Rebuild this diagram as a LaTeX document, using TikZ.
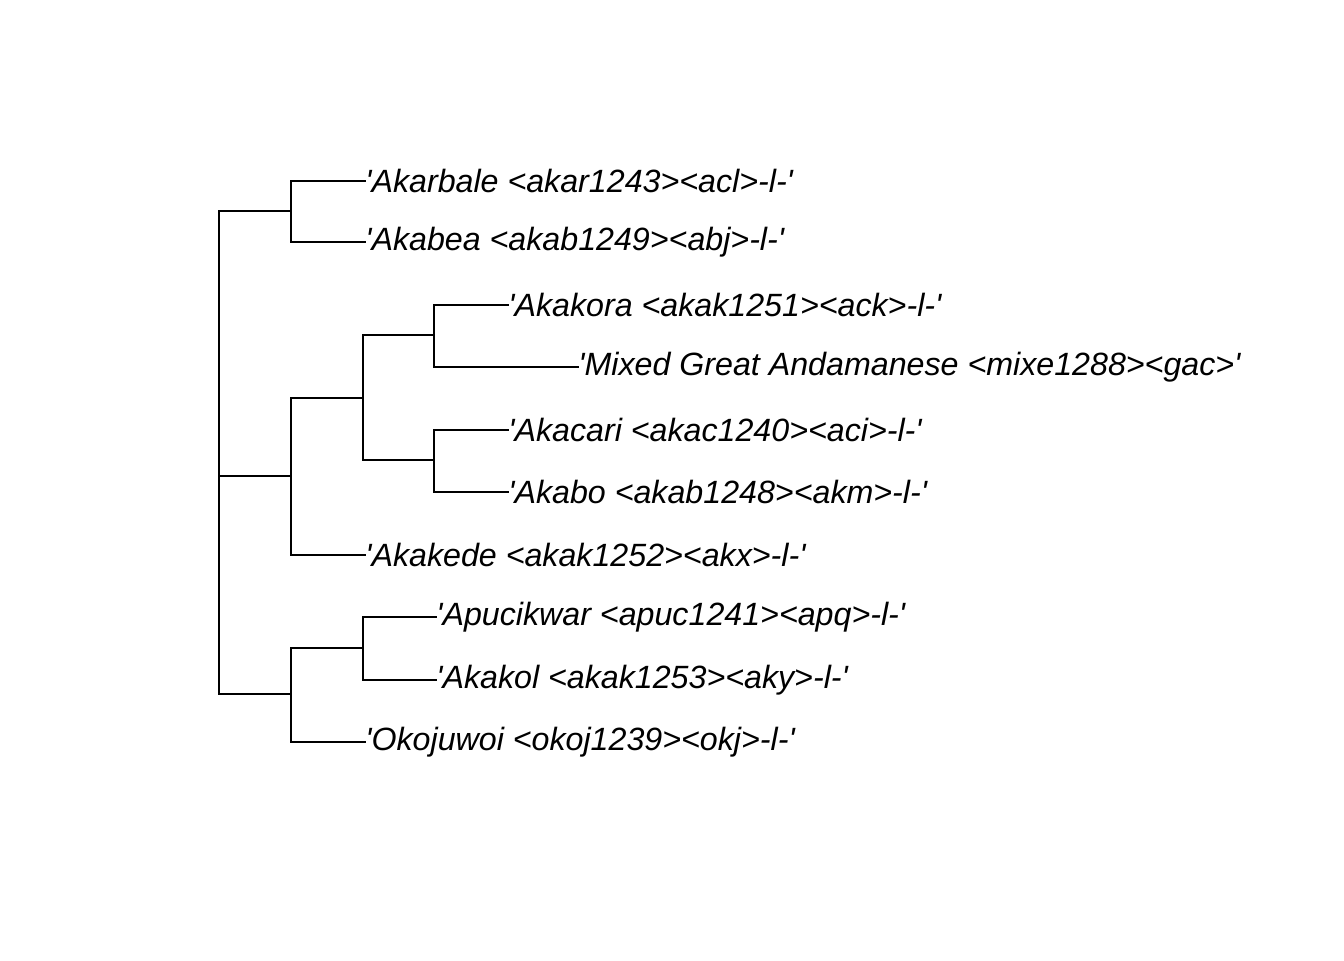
\documentclass[tikz,border=0pt]{standalone}
\usepackage{fontspec}
\setmainfont{Liberation Sans}
\usepackage{tikz}
\newcommand{\sq}{\textquotesingle}

\begin{document}
\begin{tikzpicture}[
    x=0.5pt, y=-0.5pt,
    tip/.style={anchor=west, inner sep=0pt, font=\itshape\fontsize{16.1}{18}\selectfont},
    edge/.style={line width=0.7pt, line cap=rect}
]
\useasboundingbox (0,0) rectangle (1344,960);

%% inner nodes of the tree
\coordinate (root) at (219,452);
\coordinate (n1) at (291,211);
\coordinate (n2) at (291,476);
\coordinate (n3) at (363,398);
\coordinate (n4) at (434,335);
\coordinate (n5) at (434,460);
\coordinate (n6) at (291,694);
\coordinate (n7) at (363,648);

%% tips
\node[tip] (akar) at (365,181) {\sq Akarbale <akar1243><acl>-l-\sq};
\node[tip] (akab) at (365,242) {\sq Akabea <akab1249><abj>-l-\sq};
\node[tip] (akak) at (508,305) {\sq Akakora <akak1251><ack>-l-\sq};
\node[tip] (mixe) at (578,367) {\sq Mixed Great Andamanese <mixe1288><gac>\sq};
\node[tip] (akac) at (508,430) {\sq Akacari <akac1240><aci>-l-\sq};
\node[tip] (akbo) at (508,492) {\sq Akabo <akab1248><akm>-l-\sq};
\node[tip] (akde) at (365,555) {\sq Akakede <akak1252><akx>-l-\sq};
\node[tip] (apuc) at (436,617) {\sq Apucikwar <apuc1241><apq>-l-\sq};
\node[tip] (akol) at (436,680) {\sq Akakol <akak1253><aky>-l-\sq};
\node[tip] (okoj) at (365,742) {\sq Okojuwoi <okoj1239><okj>-l-\sq};

%% branches
\draw[edge] (root |- n1) -- (root |- n6);
\draw[edge] (root |- n1) -- (n1);
\draw[edge] (root |- n2) -- (n2);
\draw[edge] (root |- n6) -- (n6);
\draw[edge] (n1) |- (akar.west);
\draw[edge] (n1) |- (akab.west);
\draw[edge] (n2) |- (n3);
\draw[edge] (n2) |- (akde.west);
\draw[edge] (n3) |- (n4);
\draw[edge] (n3) |- (n5);
\draw[edge] (n4) |- (akak.west);
\draw[edge] (n4) |- (mixe.west);
\draw[edge] (n5) |- (akac.west);
\draw[edge] (n5) |- (akbo.west);
\draw[edge] (n6) |- (n7);
\draw[edge] (n6) |- (okoj.west);
\draw[edge] (n7) |- (apuc.west);
\draw[edge] (n7) |- (akol.west);
\end{tikzpicture}
\end{document}
